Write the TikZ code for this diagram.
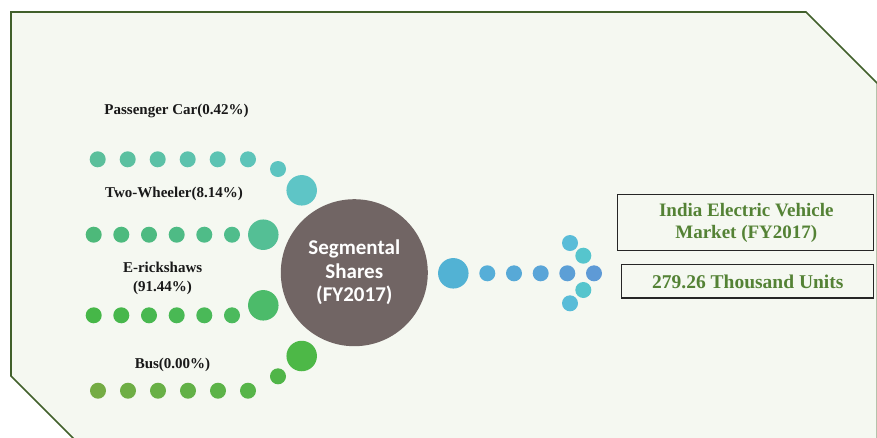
\documentclass[tikz,border=0pt]{standalone}
\usepackage{fontspec}
\setmainfont{Liberation Serif}
\newfontfamily\calfont{Carlito}
\begin{document}
\begin{tikzpicture}[x=1pt,y=-1pt,
  dotsm/.style={circle, minimum size=16pt, inner sep=0pt, draw=none},
  dotbg/.style={circle, minimum size=30.5pt, inner sep=0pt, draw=none},
  seglabel/.style={font=\fontsize{15}{18}\selectfont\bfseries, text=black!90, align=center, inner sep=0pt},
  infobox/.style={draw=black!85, line width=1.5pt, inner sep=0pt},
  infotext/.style={font=\fontsize{19}{22}\selectfont\bfseries, text=olive1, align=center, inner sep=0pt}]
\definecolor{olive1}{HTML}{548235}
\definecolor{frame}{HTML}{41602B}
\definecolor{panel}{HTML}{F5F8F1}
\definecolor{hub}{HTML}{716564}
\useasboundingbox (0,0) rectangle (877,437);
\clip (0,0) rectangle (877,437);
% panel with cut corners
\fill[white] (0,0) rectangle (877,437);
\draw[frame, fill=panel, line width=1.7pt]
  (11,12) -- (806,12) -- (877.5,83.5) -- (877.5,520) -- (155,520) -- (11,376) -- cycle;

% hub
\node[circle, fill=hub, minimum size=147pt, inner sep=0pt,
      font=\calfont\fontsize{21}{23.5}\selectfont\bfseries, text=white, align=center]
  (hub) at (354.3,272.7) {Segmental\\Shares\\(FY2017)};

% Passenger car row
\foreach \i/\x/\c in {1/97.7/5BBF9B, 2/127.7/5BC0A0, 3/157.7/5BC1A6, 4/187.7/5CC2AD, 5/217.7/5CC3B3, 6/248/5DC4B9}{
  \definecolor{tmp}{HTML}{\c}
  \node[dotsm, fill=tmp] (pc\i) at (\x,159.3) {};
}
\node[dotsm, fill={rgb,255:red,92;green,196;blue,192}] (pc7) at (278,169) {};
\node[dotbg, fill={rgb,255:red,94;green,197;blue,198}] (pc8) at (301.7,190.3) {};

% Two-wheeler row
\foreach \i/\x/\c in {1/93.7/4DB97A, 2/121.3/4DBA7E, 3/149/4EBA81, 4/176.7/4EBB85, 5/204.3/4FBC88, 6/232/50BD8C}{
  \definecolor{tmp}{HTML}{\c}
  \node[dotsm, fill=tmp] (tw\i) at (\x,234.7) {};
}
\node[dotbg, fill={rgb,255:red,84;green,191;blue,149}] (tw7) at (263.3,234.7) {};

% E-rickshaw row
\foreach \i/\x/\c in {1/93.7/46B748, 2/121.3/47B74C, 3/149/48B850, 4/176.7/49B954, 5/204.3/4AB958, 6/232/4CBA5D}{
  \definecolor{tmp}{HTML}{\c}
  \node[dotsm, fill=tmp] (er\i) at (\x,315.3) {};
}
\node[dotbg, fill={rgb,255:red,76;green,187;blue,106}] (er7) at (263.3,305.3) {};

% Bus row
\foreach \i/\x/\c in {1/98/74AC44, 2/128/6EAE45, 3/158/68B046, 4/188/62B147, 5/218/5CB348, 6/248/57B549}{
  \definecolor{tmp}{HTML}{\c}
  \node[dotsm, fill=tmp] (bu\i) at (\x,390.7) {};
}
\node[dotsm, fill={rgb,255:red,80;green,181;blue,72}] (bu7) at (278,376.3) {};
\node[dotbg, fill={rgb,255:red,77;green,184;blue,71}] (bu8) at (301.7,356) {};

% segment labels
\node[seglabel] (lpc) at (176.5,111) {Passenger Car(0.42\%)};
\node[seglabel] (ltw) at (174,194.3) {Two-Wheeler(8.14\%)};
\node[seglabel] (ler) at (162.6,267.3) {E-rickshaws};
\node[seglabel] (ler2) at (162.6,288.3) {(91.44\%)};
\node[seglabel] (lbu) at (172.5,364.7) {Bus(0.00\%)};

% output arrow
\node[dotbg, fill={rgb,255:red,82;green,178;blue,212}] (ar0) at (453.3,273.3) {};
\foreach \i/\x/\c in {1/487.3/56AED8, 2/514/57A9D7, 3/540.7/5AA5D8, 4/567.3/5C9FD6, 5/594/5E9AD6}{
  \definecolor{tmp}{HTML}{\c}
  \node[dotsm, fill=tmp] (ar\i) at (\x,273.3) {};
}
\node[dotsm, fill={rgb,255:red,89;green,188;blue,216}] (ah1) at (570,243) {};
\node[dotsm, fill={rgb,255:red,86;green,197;blue,205}] (ah2) at (583.3,255.7) {};
\node[dotsm, fill={rgb,255:red,86;green,197;blue,205}] (ah3) at (583.3,290) {};
\node[dotsm, fill={rgb,255:red,89;green,188;blue,216}] (ah4) at (570,303.3) {};

% market boxes
\node[infobox, minimum width=256pt, minimum height=56pt] (box1) at (745.5,222.5) {};
\node[infotext] (t1) at (746.3,222.7) {India Electric Vehicle\\[-0.5pt]Market (FY2017)};
\node[infobox, minimum width=252pt, minimum height=33.5pt] (box2) at (747.5,281) {};
\node[infotext, font=\fontsize{19.5}{22}\selectfont\bfseries] (t2) at (747.8,281.5) {279.26 Thousand Units};
\end{tikzpicture}
\end{document}
